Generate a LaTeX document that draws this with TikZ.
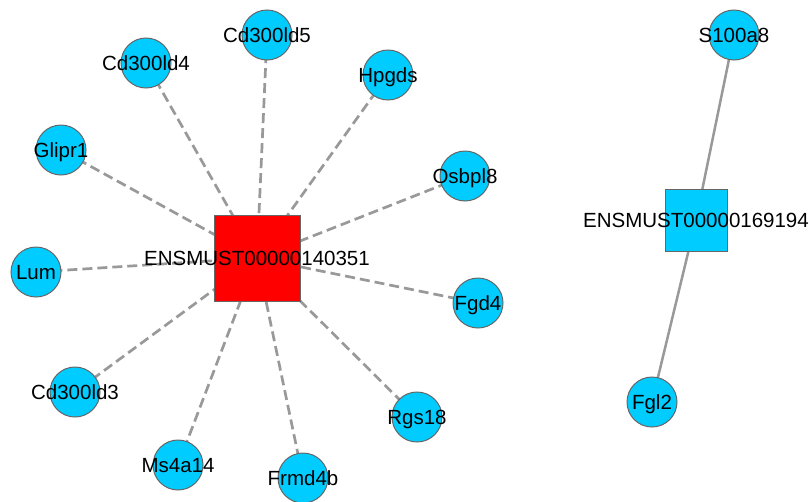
\documentclass[tikz,border=0pt]{standalone}
\usepackage{fontspec}
\setmainfont{Liberation Sans}
\usetikzlibrary{backgrounds}
\definecolor{nodecyan}{RGB}{0,204,255}
\definecolor{nodered}{RGB}{255,0,0}
\definecolor{bordergrey}{RGB}{102,102,102}
\definecolor{edgegrey}{RGB}{153,153,153}
\tikzset{
  lbl/.style={font=\fontsize{20.5}{24}\selectfont, text height=14.7pt, text depth=0pt, inner sep=0pt, draw=bordergrey, line width=1pt},
  gene/.style={lbl, circle, fill=nodecyan, minimum size=50pt},
  hubred/.style={lbl, rectangle, fill=nodered, minimum size=86pt},
  hubcyan/.style={lbl, rectangle, fill=nodecyan, minimum size=62pt},
  dashedge/.style={draw=edgegrey, line width=2.7pt, dash pattern=on 10pt off 5pt},
  solidedge/.style={draw=edgegrey, line width=2.5pt}
}
\newcommand{\lbltext}[1]{\makebox[0pt]{#1}}
\begin{document}
\begin{tikzpicture}[x=1pt,y=-1pt]
\useasboundingbox (0,0) rectangle (809,501);
\node[hubred] (hubA) at (257,258) {\lbltext{ENSMUST00000140351}};
\node[hubcyan] (hubB) at (696,220) {\lbltext{ENSMUST00000169194}};
\node[gene] (cd5) at (267,35) {\lbltext{Cd300ld5}};
\node[gene] (cd4) at (146,63) {\lbltext{Cd300ld4}};
\node[gene] (hpg) at (388,75) {\lbltext{Hpgds}};
\node[gene] (gli) at (61,150) {\lbltext{Glipr1}};
\node[gene] (osb) at (465,176) {\lbltext{Osbpl8}};
\node[gene] (lum) at (36,272) {\lbltext{Lum}};
\node[gene] (fgd) at (478,303) {\lbltext{Fgd4}};
\node[gene] (cd3) at (75,392) {\lbltext{Cd300ld3}};
\node[gene] (rgs) at (417,417) {\lbltext{Rgs18}};
\node[gene] (ms4) at (178,465) {\lbltext{Ms4a14}};
\node[gene] (frm) at (303,478) {\lbltext{Frmd4b}};
\node[gene] (s10) at (734,35) {\lbltext{S100a8}};
\node[gene] (fgl) at (652,402) {\lbltext{Fgl2}};
\begin{scope}[on background layer]
\foreach \g in {cd5,cd4,hpg,gli,osb,lum,fgd,cd3,rgs,ms4,frm}{
  \draw[dashedge] (hubA.center) -- (\g.center);
}
\draw[solidedge] (hubB.center) -- (s10.center);
\draw[solidedge] (hubB.center) -- (fgl.center);
\end{scope}
\end{tikzpicture}
\end{document}
